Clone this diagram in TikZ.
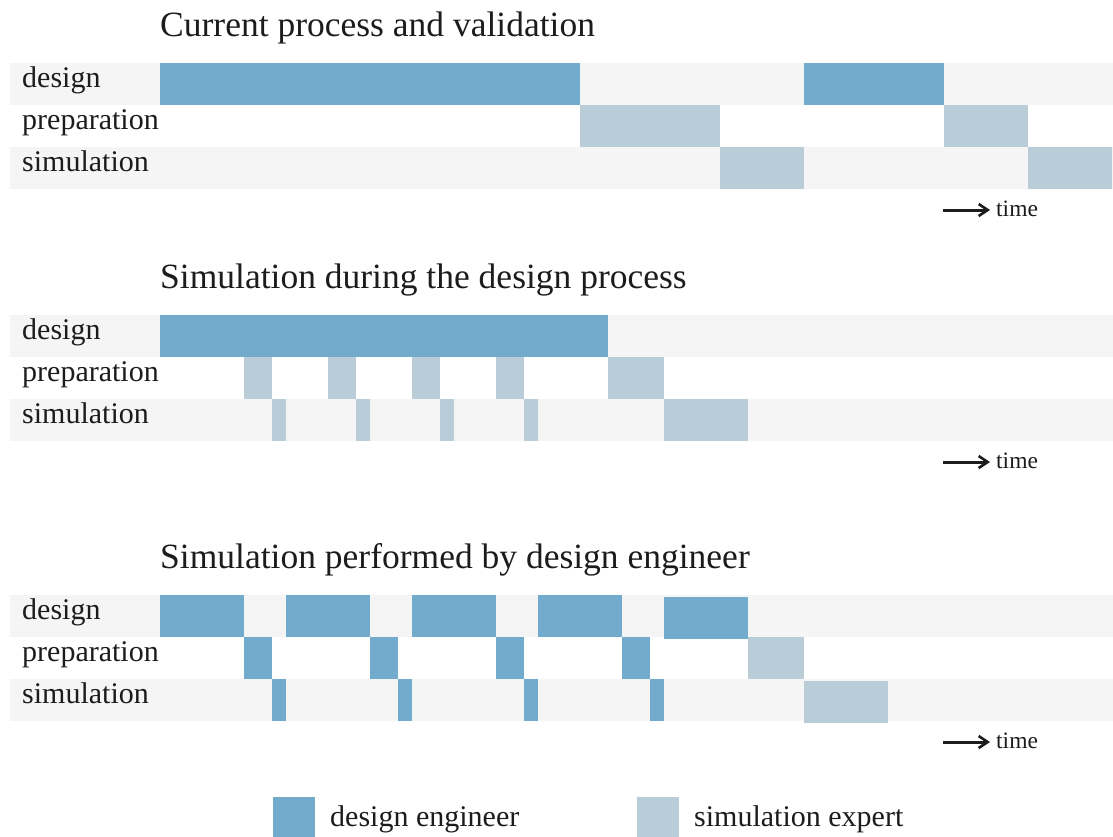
\documentclass[tikz,border=0pt]{standalone}
\usepackage{fontspec}
\setmainfont{Liberation Serif}
\usetikzlibrary{arrows.meta}
\definecolor{engblue}{HTML}{72ABCB}
\definecolor{expblue}{HTML}{B8CDD8}
\definecolor{rowgray}{HTML}{F5F5F5}
\definecolor{ink}{HTML}{1C1C1C}
\tikzstyle{eng} = [fill=engblue]
\tikzstyle{exp} = [fill=expblue]
\tikzstyle{lane} = [fill=rowgray]
\tikzstyle{rowlabel} = [anchor=base west, inner sep=0pt, text=ink, font=\fontsize{30}{32}\selectfont]
\tikzstyle{heading} = [anchor=base west, inner sep=0pt, text=ink, font=\fontsize{35.5}{38}\selectfont]
\tikzstyle{timelabel} = [anchor=base west, inner sep=0pt, text=ink, font=\fontsize{23.5}{25}\selectfont]
\tikzstyle{timearrow} = [-{Straight Barb[length=9pt,width=12pt,line width=2.6pt]}, line width=3pt, draw=ink, shorten >=6pt]

\begin{document}
\begin{tikzpicture}[x=1pt,y=-1pt]
    \useasboundingbox (0,0) rectangle (1113,836);

    % current process
    \node[heading] (h1) at (160,36) {Current process and validation};
    \fill[lane] (10,63) rectangle (1113,105);
    \fill[lane] (10,147) rectangle (1113,189);
    \fill[eng] (160,63) rectangle (580,105);
    \fill[exp] (580,105) rectangle (720,147);
    \fill[exp] (720,147) rectangle (804,189);
    \fill[eng] (804,63) rectangle (944,105);
    \fill[exp] (944,105) rectangle (1028,147);
    \fill[exp] (1028,147) rectangle (1112,189);
    \node[rowlabel] (d1) at (22,87) {design};
    \node[rowlabel] (p1) at (22,129) {preparation};
    \node[rowlabel] (s1) at (22,171) {simulation};
    \coordinate (a1) at (943,210);
    \node[timelabel] (t1) at (996,216) {time};
    \draw[timearrow] (a1) -- (a1 -| t1.west);

    % simulation during design
    \node[heading] (h2) at (160,288) {Simulation during the design process};
    \fill[lane] (10,315) rectangle (1113,357);
    \fill[lane] (10,399) rectangle (1113,441);
    \fill[eng] (160,315) rectangle (608,357);
    \fill[exp] (244,357) rectangle (272,399);
    \fill[exp] (328,357) rectangle (356,399);
    \fill[exp] (412,357) rectangle (440,399);
    \fill[exp] (496,357) rectangle (524,399);
    \fill[exp] (608,357) rectangle (664,399);
    \fill[exp] (272,399) rectangle (286,441);
    \fill[exp] (356,399) rectangle (370,441);
    \fill[exp] (440,399) rectangle (454,441);
    \fill[exp] (524,399) rectangle (538,441);
    \fill[exp] (664,399) rectangle (748,441);
    \node[rowlabel] (d2) at (22,339) {design};
    \node[rowlabel] (p2) at (22,381) {preparation};
    \node[rowlabel] (s2) at (22,423) {simulation};
    \coordinate (a2) at (943,462);
    \node[timelabel] (t2) at (996,468) {time};
    \draw[timearrow] (a2) -- (a2 -| t2.west);

    % simulation by design engineer
    \node[heading] (h3) at (160,568) {Simulation performed by design engineer};
    \fill[lane] (10,595) rectangle (1113,637);
    \fill[lane] (10,679) rectangle (1113,721);
    \fill[eng] (160,595) rectangle (244,637);
    \fill[eng] (286,595) rectangle (370,637);
    \fill[eng] (412,595) rectangle (496,637);
    \fill[eng] (538,595) rectangle (622,637);
    \fill[eng] (664,597) rectangle (748,639);
    \fill[eng] (244,637) rectangle (272,679);
    \fill[eng] (370,637) rectangle (398,679);
    \fill[eng] (496,637) rectangle (524,679);
    \fill[eng] (622,637) rectangle (650,679);
    \fill[eng] (272,679) rectangle (286,721);
    \fill[eng] (398,679) rectangle (412,721);
    \fill[eng] (524,679) rectangle (538,721);
    \fill[eng] (650,679) rectangle (664,721);
    \fill[exp] (748,637) rectangle (804,679);
    \fill[exp] (804,681) rectangle (888,723);
    \node[rowlabel] (d3) at (22,619) {design};
    \node[rowlabel] (p3) at (22,661) {preparation};
    \node[rowlabel] (s3) at (22,703) {simulation};
    \coordinate (a3) at (943,742);
    \node[timelabel] (t3) at (996,748) {time};
    \draw[timearrow] (a3) -- (a3 -| t3.west);

    % legend
    \fill[eng] (273,797) rectangle (315,840);
    \node[rowlabel] (l1) at (330,826) {design engineer};
    \fill[exp] (637,797) rectangle (679,840);
    \node[rowlabel] (l2) at (694,826) {simulation expert};
\end{tikzpicture}
\end{document}
